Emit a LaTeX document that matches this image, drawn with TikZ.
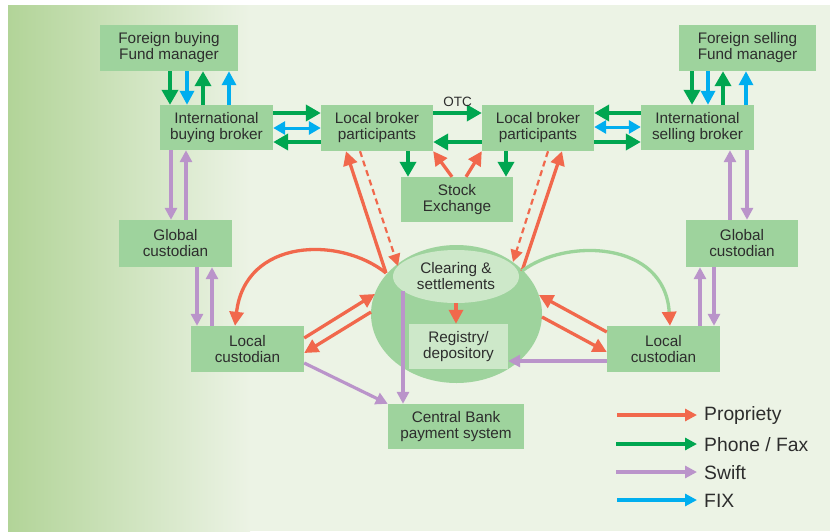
\documentclass[tikz,border=0pt]{standalone}
\usepackage{fontspec}
\setmainfont{Liberation Sans}
\usetikzlibrary{arrows.meta,shapes.geometric}
\definecolor{boxg}{RGB}{158,211,157}
\definecolor{lightg}{RGB}{205,232,201}
\definecolor{bgl}{RGB}{236,243,229}
\definecolor{bgd}{RGB}{178,212,152}
\definecolor{txt}{RGB}{45,45,45}
\definecolor{cred}{RGB}{241,104,76}
\definecolor{cgreen}{RGB}{0,166,80}
\definecolor{cpurple}{RGB}{186,148,202}
\definecolor{ccyan}{RGB}{0,174,239}
\definecolor{ccurve}{RGB}{156,212,154}
\begin{document}
\begin{tikzpicture}[x=1pt,y=-1pt,
  box/.style={fill=boxg, draw=none, inner sep=0pt, text=txt, align=center,
    font=\fontsize{15.3}{16}\selectfont},
  pr/.style={draw=cred, line width=3.3pt, -{Triangle[length=14pt,width=14pt]}},
  prd/.style={draw=cred, line width=2.2pt, dash pattern=on 6pt off 4pt, -{Triangle[length=12pt,width=12pt]}},
  ph/.style={draw=cgreen, line width=3.8pt, -{Triangle[length=15pt,width=16pt]}},
  sw/.style={draw=cpurple, line width=3.2pt, -{Triangle[length=12pt,width=12pt]}},
  fx/.style={draw=ccyan, line width=3.3pt, -{Triangle[length=14pt,width=14pt]}},
  fxb/.style={draw=ccyan, line width=3pt, {Triangle[length=12pt,width=13pt]}-{Triangle[length=12pt,width=13pt]}},
  legtext/.style={text=txt, anchor=west, inner sep=0pt, font=\fontsize{19.3}{20}\selectfont}
]
\useasboundingbox (0,0) rectangle (830,531);
% background
\fill[white] (0,0) rectangle (830,531);
\shade[left color=bgd, right color=bgl] (8,5) rectangle (250,531);
\fill[bgl] (249.5,5) rectangle (830,531);

% clearing area
\node[ellipse, fill=boxg, minimum width=171pt, minimum height=138pt, inner sep=0pt] (circ) at (456.5,314) {};
\node[ellipse, fill=lightg, minimum width=126pt, minimum height=53pt, inner sep=0pt, text=txt, align=center,
  font=\fontsize{15.3}{16}\selectfont] (clr) at (456,276.5) {Clearing \&\\settlements};
\node[box, fill=lightg, minimum width=99pt, minimum height=45pt] (reg) at (458.5,346.5) {Registry/\\depository};

% boxes
\node[box, minimum width=138pt, minimum height=46pt] (fbfm) at (169,48) {Foreign buying\\Fund manager};
\node[box, minimum width=137pt, minimum height=46pt] (fsfm) at (747.5,48) {Foreign selling\\Fund manager};
\node[box, minimum width=113pt, minimum height=45pt] (ibb) at (216.5,127.5) {International\\buying broker};
\node[box, minimum width=113pt, minimum height=45pt] (isb) at (697.5,127.5) {International\\selling broker};
\node[box, minimum width=112pt, minimum height=46pt] (lbpL) at (377,128) {Local broker\\participants};
\node[box, minimum width=112pt, minimum height=46pt] (lbpR) at (538,128) {Local broker\\participants};
\node[box, minimum width=112pt, minimum height=45pt] (se) at (457,199.5) {Stock\\Exchange};
\node[box, minimum width=113pt, minimum height=47pt] (gcL) at (175.5,243.5) {Global\\custodian};
\node[box, minimum width=112pt, minimum height=47pt] (gcR) at (742,243.5) {Global\\custodian};
\node[box, minimum width=113pt, minimum height=46pt] (lcL) at (247.5,349) {Local\\custodian};
\node[box, minimum width=113pt, minimum height=46pt] (lcR) at (663.5,349) {Local\\custodian};
\node[box, minimum width=136pt, minimum height=45pt] (cb) at (456,426.5) {Central Bank\\payment system};

% fund managers <-> international brokers
\draw[ph] (170,0 |- fbfm.south) -- (170,0 |- ibb.north);
\draw[fx] (187,0 |- fbfm.south) -- (187,0 |- ibb.north);
\draw[ph] (203,0 |- ibb.north) -- (203,0 |- fbfm.south);
\draw[fx] (229,0 |- ibb.north) -- (229,0 |- fbfm.south);
\draw[ph] (692,0 |- fsfm.south) -- (692,0 |- isb.north);
\draw[fx] (708,0 |- fsfm.south) -- (708,0 |- isb.north);
\draw[ph] (723,0 |- isb.north) -- (723,0 |- fsfm.south);
\draw[fx] (746,0 |- isb.north) -- (746,0 |- fsfm.south);

% horizontal links
\draw[ph] (ibb.east |- 0,113) -- (lbpL.west |- 0,113);
\draw[fxb] (ibb.east |- 0,128) -- (lbpL.west |- 0,128);
\draw[ph] (lbpL.west |- 0,142) -- (ibb.east |- 0,142);
\draw[ph] (lbpL.east |- 0,113) -- node[above=4pt, text=txt, inner sep=0pt, font=\fontsize{13.5}{14}\selectfont] (otc) {OTC} (lbpR.west |- 0,113);
\draw[ph] (lbpR.west |- 0,142) -- (lbpL.east |- 0,142);
\draw[ph] (isb.west |- 0,113) -- (lbpR.east |- 0,113);
\draw[fxb] (lbpR.east |- 0,127) -- (isb.west |- 0,127);
\draw[ph] (lbpR.east |- 0,142) -- (isb.west |- 0,142);

% stock exchange
\draw[ph] (408,0 |- lbpL.south) -- (408,0 |- se.north);
\draw[ph] (506,0 |- lbpR.south) -- (506,0 |- se.north);
\draw[pr] (452,0 |- se.north) -- (lbpL.south east);
\draw[pr] (466,0 |- se.north) -- (lbpR.south west);

% swift verticals
\draw[sw] (171,0 |- ibb.south) -- (171,0 |- gcL.north);
\draw[sw] (186,0 |- gcL.north) -- (186,0 |- ibb.south);
\draw[sw] (197,0 |- gcL.south) -- (197,0 |- lcL.north);
\draw[sw] (212,0 |- lcL.north) -- (212,0 |- gcL.south);
\draw[sw] (747,0 |- isb.south) -- (747,0 |- gcR.north);
\draw[sw] (730,0 |- gcR.north) -- (730,0 |- isb.south);
\draw[sw] (714,0 |- gcR.south) -- (714,0 |- lcR.north);
\draw[sw] (700,0 |- lcR.north) -- (700,0 |- gcR.south);

% clearing links
\coordinate (cL1) at (386,273);
\coordinate (cR1) at (522,271);
\draw[pr] (cL1) -- (346,0 |- lbpL.south);
\draw[prd] (360,0 |- lbpL.south) -- (398,266);
\draw[pr] (cR1) -- (562,0 |- lbpR.south);
\draw[prd] (548,0 |- lbpR.south) -- (513,262);
\draw[pr] (cL1) .. controls (340,236) and (245,238) .. (235,0 |- lcL.north);
\draw[draw=ccurve, line width=3.3pt, -{Triangle[length=14pt,width=14pt,color=cred]}]
  (cR1) .. controls (565,238) and (665,240) .. (670,0 |- lcR.north);
\draw[pr] (lcL.east |- 0,338) -- (375,294);
\draw[pr] (371,312) -- (lcL.east |- 0,353);
\draw[pr] (lcR.west |- 0,332) -- (539,295);
\draw[pr] (542,317) -- (lcR.west |- 0,352);
\draw[pr] (456,0 |- clr.south) -- (456,0 |- reg.north);
\draw[sw] (lcR.west |- 0,361) -- (reg.east |- 0,361);
\draw[sw] (lcL.east |- 0,363) -- (cb.north west);
\draw[sw] (403,291) -- (403,0 |- cb.north);

% legend
\coordinate (l1a) at (617,415); \coordinate (l1b) at (697,415);
\coordinate (l2a) at (616,444); \coordinate (l2b) at (697,444);
\coordinate (l3a) at (616,472); \coordinate (l3b) at (697,472);
\coordinate (l4a) at (617,500); \coordinate (l4b) at (697,500);
\draw[pr, line width=3.3pt, -{Triangle[length=12pt,width=12pt]}] (l1a) -- (l1b);
\draw[ph, line width=3.3pt, -{Triangle[length=12pt,width=12pt]}] (l2a) -- (l2b);
\draw[sw, line width=3.3pt] (l3a) -- (l3b);
\draw[fx, -{Triangle[length=12pt,width=12pt]}] (l4a) -- (l4b);
\node[legtext] (t1) at (704,416) {Propriety};
\node[legtext] (t2) at (704,445) {Phone / Fax};
\node[legtext] (t3) at (704,473) {Swift};
\node[legtext] (t4) at (704,501) {FIX};
\end{tikzpicture}
\end{document}
